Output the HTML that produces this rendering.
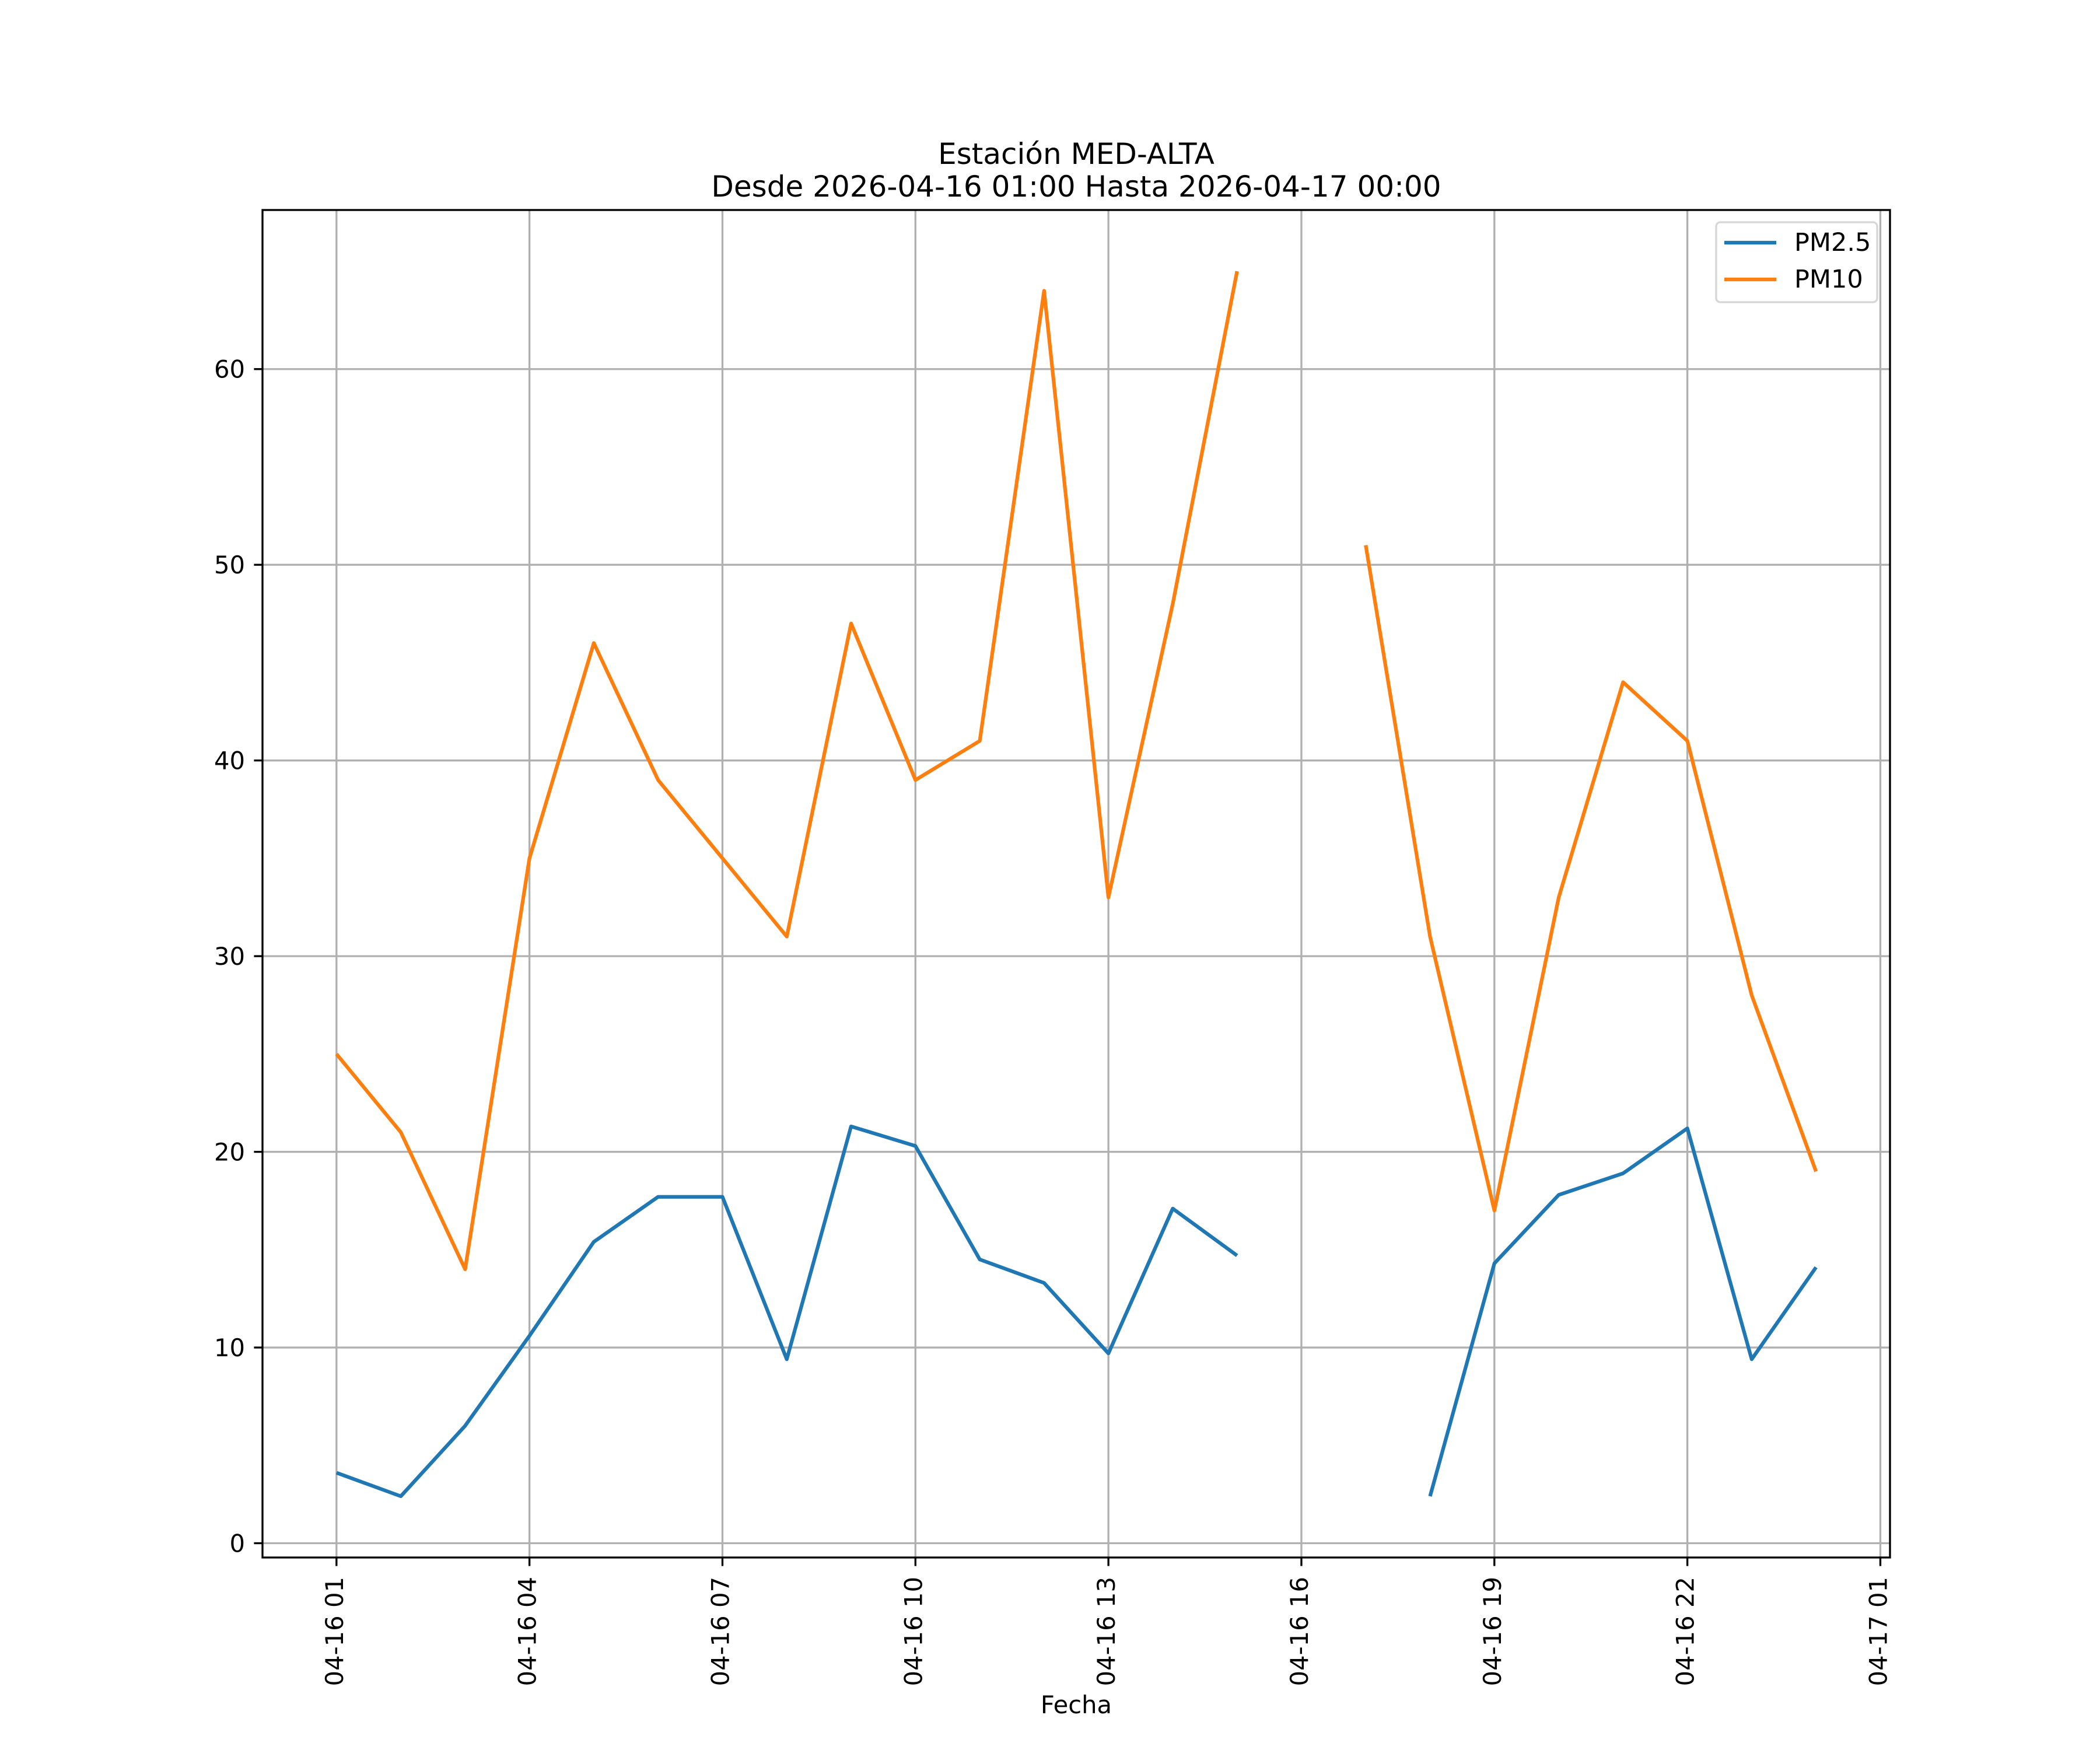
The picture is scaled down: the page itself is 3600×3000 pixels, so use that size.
<!DOCTYPE html>
<html><head><meta charset="utf-8"><style>
html,body{margin:0;padding:0;background:#fff;}
svg{display:block;font-family:"DejaVu Sans","Liberation Sans",sans-serif;}
</style></head><body>
<svg id="chart" width="3600" height="3000" viewBox="0 0 3600 3000" xmlns="http://www.w3.org/2000/svg">
<rect width="3600" height="3000" fill="#fff"/>
<text x="1845" y="281" text-anchor="middle" font-size="50">Estación MED-ALTA</text>
<text x="1845" y="337" text-anchor="middle" font-size="50">Desde 2026-04-16 01:00 Hasta 2026-04-17 00:00</text>
<g id="grid"></g>
<g id="series"></g>
<rect x="450" y="360" width="2790" height="2310" fill="none" stroke="#000" stroke-width="3.33"/>
<g id="axes"></g>
<text x="1845" y="2937" text-anchor="middle" font-size="41.7">Fecha</text>
<g>
<rect x="2942" y="381" width="276" height="137" fill="#fff" fill-opacity="0.8" stroke="#d6d6d6" stroke-width="3.3" rx="7"/>
<g><line x1="2956" y1="416" x2="3045" y2="416" stroke="#1f77b4" stroke-width="6.25"/><text x="3076" y="430" font-size="43">PM2.5</text></g>
<g><line x1="2956" y1="479" x2="3045" y2="479" stroke="#ff7f0e" stroke-width="6.25"/><text x="3076" y="493" font-size="43">PM10</text></g>
</g>
</svg>
<script>
const hours = [1,2,3,4,5,6,7,8,9,10,11,12,13,14,15,16,17,18,19,20,21,22,23,24];
const pm25 = [3.6,2.4,6.0,10.6,15.4,17.7,17.7,9.4,21.3,20.3,14.5,13.3,9.7,17.1,14.7,null,null,2.4,14.3,17.8,18.9,21.2,9.4,14.1];
const pm10 = [25,21,14,35,46,39,35,31,47,39,41,64,33,48,65,null,51,31,17,33,44,41,28,19];
const xTicks = [1,4,7,10,13,16,19,22,25];
const xTickLabels = ["04-16 01","04-16 04","04-16 07","04-16 10","04-16 13","04-16 16","04-16 19","04-16 22","04-17 01"];
const yTicks = [0,10,20,30,40,50,60];

const NS="http://www.w3.org/2000/svg";
const L=450,R=3240,T=360,B=2670;
const allVals=pm25.concat(pm10).filter(v=>v!==null);
const vmin=Math.min(...allVals),vmax=Math.max(...allVals),vr=vmax-vmin;
const y0=vmin-0.05*vr,y1=vmax+0.05*vr;
const hmin=Math.min(...hours),hmax=Math.max(...hours),hr=hmax-hmin;
const x0=hmin-0.05*hr,x1=hmax+0.05*hr;
function xs(h){return L+(h-x0)/(x1-x0)*(R-L);}
function ys(v){return B-(v-y0)/(y1-y0)*(B-T);}
function mk(tag,attrs,parent){const e=document.createElementNS(NS,tag);for(const k in attrs)e.setAttribute(k,attrs[k]);parent.appendChild(e);return e;}
const grid=document.getElementById('grid'),axes=document.getElementById('axes'),series=document.getElementById('series');
xTicks.forEach((t,i)=>{
  const x=xs(t);
  const g=mk('line',{x1:x,y1:T,x2:x,y2:B,stroke:'#b0b0b0','stroke-width':3.33},grid);
  
  
  const tk=mk('line',{x1:x,y1:B,x2:x,y2:B+14.6,stroke:'#000','stroke-width':3.33},axes);
  
  
  const lb=mk('text',{x:0,y:0,'font-size':41.7,'text-anchor':'end',transform:`translate(${x+11},2703) rotate(-90)`},axes);
  lb.textContent=xTickLabels[i];
  
  
});
yTicks.forEach(t=>{
  const y=ys(t);
  const g=mk('line',{x1:L,y1:y,x2:R,y2:y,stroke:'#b0b0b0','stroke-width':3.33},grid);
  
  
  const tk=mk('line',{x1:L-14.6,y1:y,x2:L,y2:y,stroke:'#000','stroke-width':3.33},axes);
  
  
  const lb=mk('text',{x:420,y:y+15,'font-size':41.7,'text-anchor':'end'},axes);
  lb.textContent=t;
  
  
});
function draw(vals,color,name){
  let segs=[],cur=[];
  vals.forEach((v,i)=>{if(v===null){if(cur.length)segs.push(cur);cur=[];}else cur.push(xs(hours[i])+','+ys(v));});
  if(cur.length)segs.push(cur);
  segs.forEach(s=>{
    const p=mk('polyline',{points:s.join(' '),fill:'none',stroke:color,'stroke-width':6.25,'stroke-linejoin':'round'},series);
    
    
  });
}
draw(pm25,'#1f77b4','pm25-line');
draw(pm10,'#ff7f0e','pm10-line');
</script>
</body></html>
